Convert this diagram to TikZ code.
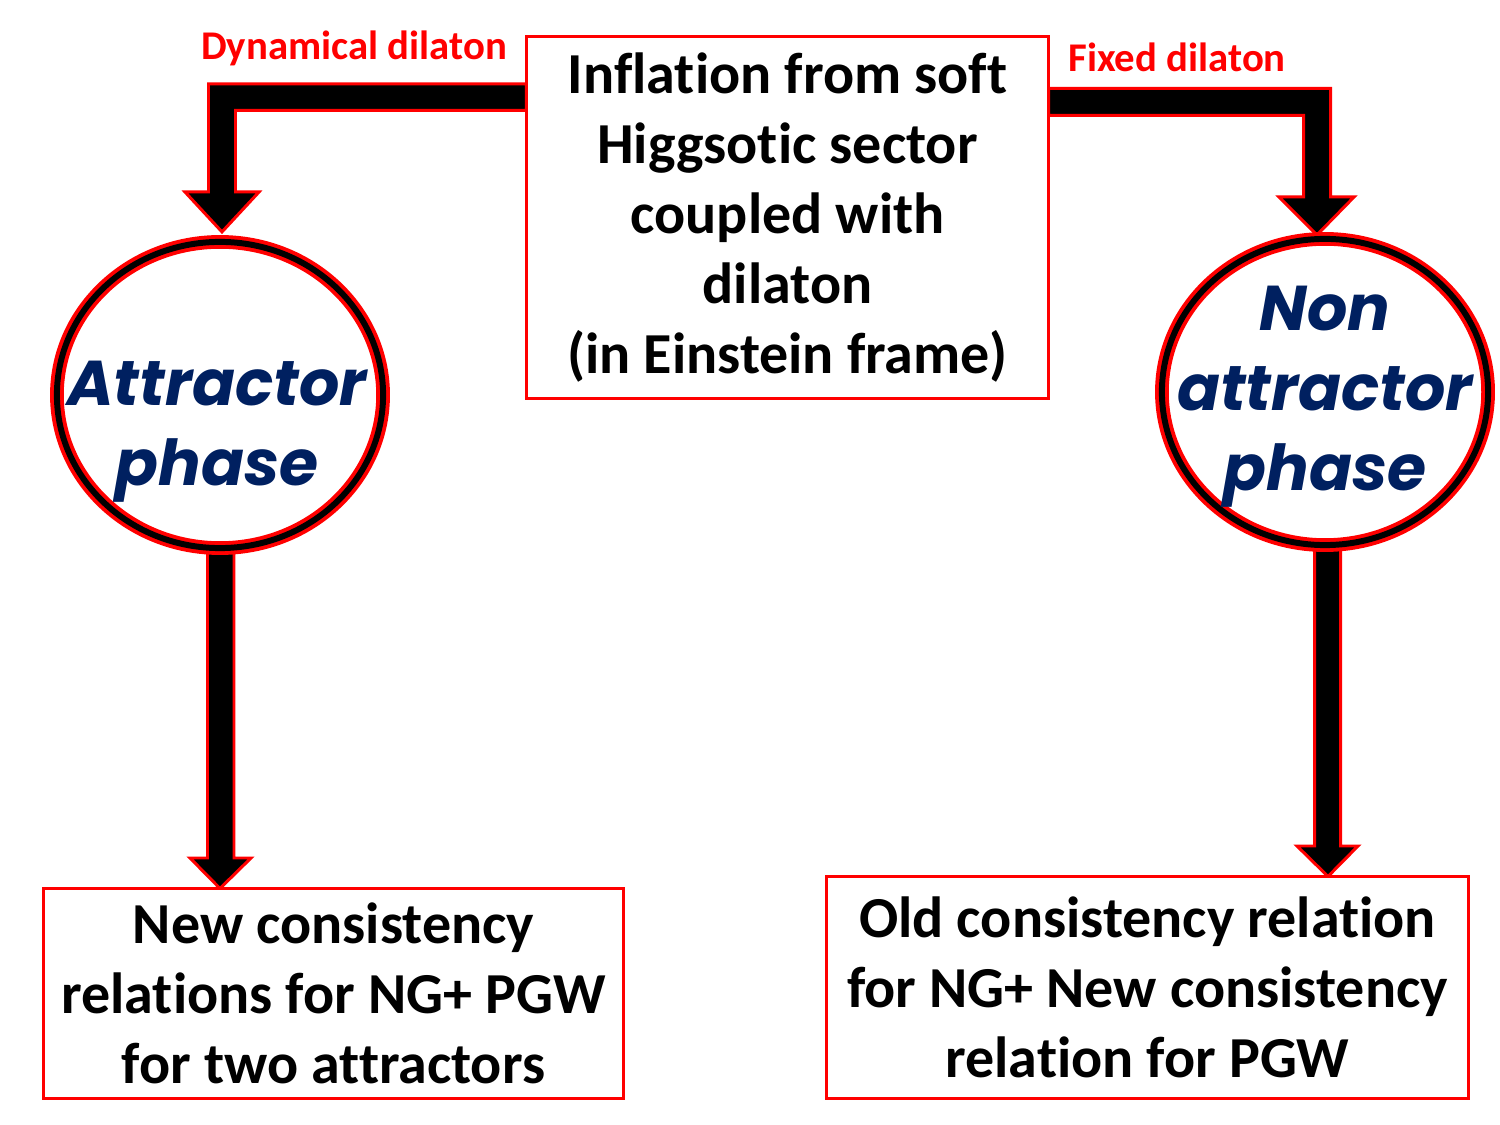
\documentclass[tikz,border=0pt]{standalone}
\usepackage{fontspec}
\setmainfont{Carlito}[Ligatures=NoCommon]
\newfontfamily\phasefont{Poppins}
\usepackage{xcolor}
\usepackage{tikz}
\usetikzlibrary{arrows.meta, positioning, shapes.geometric, calc, backgrounds}
\definecolor{phaseblue}{RGB}{0, 32, 96}
\newcommand{\boxsz}{\fontsize{16.5}{19.9}\selectfont}
\newcommand{\tagsz}{\fontsize{11.6}{14}\selectfont}
\newcommand{\phasesz}{\fontsize{18}{22.8}\selectfont}

\begin{document}
\begin{tikzpicture}[
    x=0.01cm, y=-0.01cm,
    box/.style={rectangle, draw=red, line width=0.85pt, fill=white, align=center, inner sep=0pt, outer sep=0pt, font=\boxsz\bfseries},
    phase/.style={ellipse, draw=red, line width=1.1pt, double=black, double distance=1.7pt, fill=white, minimum width=3.26cm, minimum height=3.06cm, inner sep=0pt, outer sep=0pt},
    phasetext/.style={align=center, text=phaseblue, font=\phasefont\phasesz\bfseries\itshape},
    tag/.style={text=red, font=\tagsz\bfseries},
    blockarr/.style={draw=red, fill=black, line width=0.85pt, line join=miter}
  ]
  \useasboundingbox (0,0) rectangle (1500,1125);

  % Boxes
  \node[box, minimum width=5.22cm, minimum height=3.62cm] (top) at (787.5,217.5)
    {Inflation from soft\\Higgsotic sector\\coupled with\\dilaton\\(in Einstein frame)};
  \node[box, minimum width=5.80cm, minimum height=2.10cm] (lbox) at (333.5,993.5)
    {New consistency\\relations for NG+ PGW\\for two attractors};
  \node[box, minimum width=6.42cm, minimum height=2.22cm] (rbox) at (1147.5,987.5)
    {Old consistency relation\\for NG+ New consistency\\relation for PGW};

  % Phases
  \node[phase] (att) at (220,395) {};
  \node[phase] (natt) at (1325,392) {};
  \node[phasetext] at (217,432) {Attractor\\phase};
  \node[phasetext] at (1325,397) {Non\\attractor\\phase};

  % Block arrows
  \begin{scope}[on background layer]
    \draw[blockarr] (top.west |- 0,84) -- (208.5,84) -- (208.5,192) -- (185,192)
      -- ($(att.north)+(2,-10)$) -- (259,192) -- (235.5,192) -- (235.5,110.5)
      -- (top.west |- 0,110.5) -- cycle;
    \draw[blockarr] (top.east |- 0,88.5) -- (1330.5,88.5) -- (1330.5,197) -- (1354,197)
      -- ($(natt.north)+(-8,-4)$) -- (1279,197) -- (1303.5,197) -- (1303.5,115.5)
      -- (top.east |- 0,115.5) -- cycle;
    \draw[blockarr] (att.south -| 207.5,0) -- (207.5,858) -- (190,858)
      -- (lbox.north -| 220,0) -- (251,858) -- (234,858) -- (att.south -| 234,0) -- cycle;
    \draw[blockarr] (natt.south -| 1314.5,0) -- (1314.5,846) -- (1297,846)
      -- (rbox.north -| 1328,0) -- (1358,846) -- (1340.5,846) -- (natt.south -| 1340.5,0) -- cycle;
  \end{scope}

  % Labels
  \node[tag] (dyn) at (354,48) {Dynamical dilaton};
  \node[tag] (fix) at (1177,57) {Fixed dilaton};

\end{tikzpicture}
\end{document}
